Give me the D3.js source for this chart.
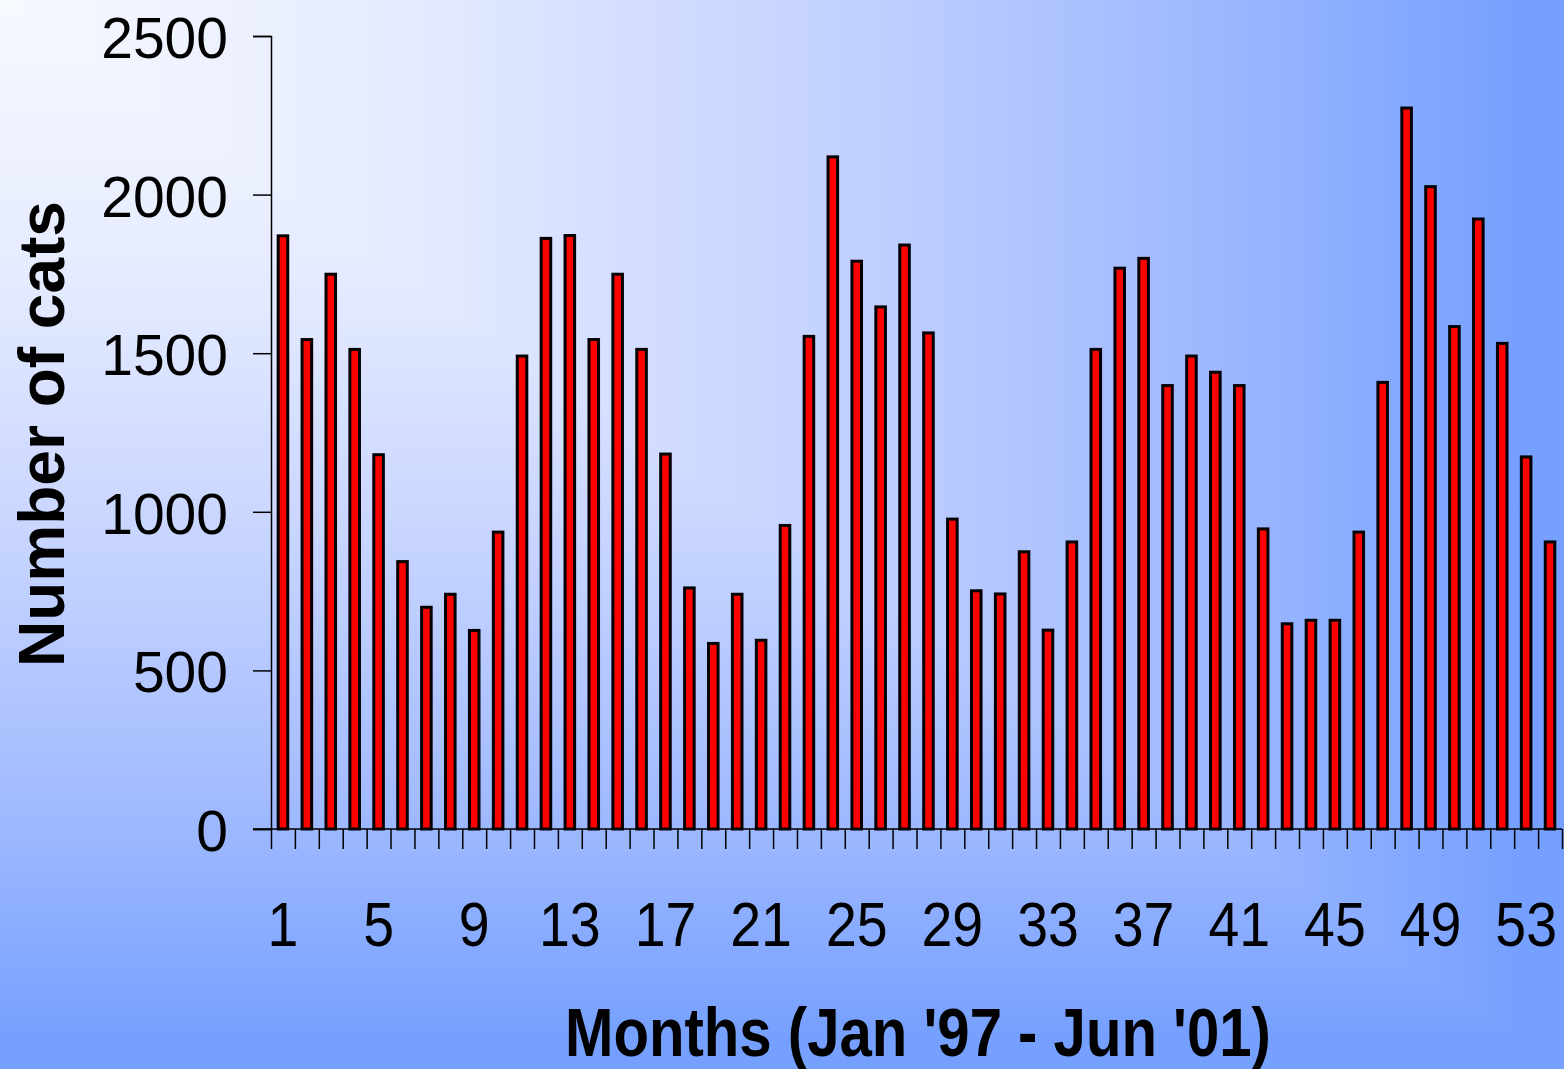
<!DOCTYPE html>
<html>
<head>
<meta charset="utf-8">
<script src="https://cdn.jsdelivr.net/npm/d3@7"></script>
<style>
	html, body { margin: 0; padding: 0; overflow: hidden; }
	svg { display: block; font-family: "Liberation Sans", Arial, sans-serif; }
</style>
</head>
<body>
<svg id="chart" width="1564" height="1069"></svg>
<script>
// month index 1..54 (Jan '97 - Jun '01)
const months = d3.range(1, 55);

const cats = [
	1870, 1543, 1749, 1512, 1180, 843, 699, 740, 626, 936,
	1491, 1862, 1871, 1543, 1749, 1512, 1182, 760, 585, 740,
	595, 957, 1553, 2119, 1790, 1646, 1841, 1564, 977, 751,
	741, 874, 627, 905, 1512, 1768, 1799, 1398, 1491, 1440,
	1398, 946, 647, 658, 658, 936, 1408, 2273, 2025, 1584,
	1923, 1531, 1173, 905
];

const yTicks = [0, 500, 1000, 1500, 2000, 2500];
const xLabels = [1, 5, 9, 13, 17, 21, 25, 29, 33, 37, 41, 45, 49, 53];

const width = 1564, height = 1069;
const plot = { left: 271, right: 1562, top: 36, bottom: 829 };

const svg = d3.select('#chart');

// background: "from corner" gradient, two linear gradients combined with darken
const defs = svg.append('defs');
const bgStops = [
	[0, '#f7f9ff'],
	[0.25, '#e6ecff'],
	[0.5, '#c8d5ff'],
	[0.75, '#a2bbff'],
	[0.97, '#76a0ff']
];
[['gh', 1, 0], ['gv', 0, 1]].forEach(([id, x2, y2]) => {
	defs.append('linearGradient')
		.attr('id', id)
		.attr('x1', 0).attr('y1', 0).attr('x2', x2).attr('y2', y2)
		.selectAll('stop')
		.data(bgStops)
		.join('stop')
		.attr('offset', d => d[0])
		.attr('stop-color', d => d[1]);
});

svg.append('rect').attr('width', width).attr('height', height).attr('fill', 'url(#gh)');
svg.append('rect').attr('width', width).attr('height', height).attr('fill', 'url(#gv)')
	.style('mix-blend-mode', 'darken');

const x = d3.scaleBand()
	.domain(months)
	.range([plot.left, plot.right])
	.paddingInner(0.6)
	.paddingOuter(0.3);

// category boundaries for the x ticks
const xEdge = d3.scaleLinear()
	.domain([0, months.length])
	.range([plot.left, plot.right]);

const y = d3.scaleLinear()
	.domain([0, 2500])
	.range([plot.bottom, plot.top]);

// bars
svg.append('g')
	.selectAll('rect')
	.data(cats)
	.join('rect')
	.attr('x', (d, i) => x(months[i]))
	.attr('y', d => y(d))
	.attr('width', x.bandwidth())
	.attr('height', d => y(0) - y(d))
	.attr('fill', '#ff0000')
	.attr('stroke', '#000')
	.attr('stroke-width', 3);

// y axis
svg.append('g')
	.attr('transform', `translate(${plot.left},0)`)
	.call(d3.axisLeft(y).tickValues(yTicks).tickSize(18).tickFormat(''));

// x axis (ticks at every month boundary)
const xAxis = svg.append('g')
	.attr('transform', `translate(0,${plot.bottom})`)
	.call(d3.axisBottom(xEdge).tickValues(d3.range(months.length + 1)).tickSize(20).tickFormat(''));

svg.selectAll('.domain, .tick line')
	.attr('stroke', '#000')
	.attr('stroke-width', 1.5);
xAxis.select('.domain').attr('d', `M${plot.left - 18},0H${plot.right}`);

// y tick labels
svg.append('g')
	.selectAll('text')
	.data(yTicks)
	.join('text')
	.attr('x', 228)
	.attr('y', d => y(d) + 2)
	.attr('dy', '0.35em')
	.attr('text-anchor', 'end')
	.attr('font-size', 57)
	.attr('fill', '#000')
	.text(d => d);

// x tick labels (narrow face)
svg.append('g')
	.selectAll('text')
	.data(xLabels)
	.join('text')
	.attr('transform', d => `translate(${x(d) + x.bandwidth() / 2},946) scale(0.88,1)`)
	.attr('text-anchor', 'middle')
	.attr('font-size', 63)
	.attr('fill', '#000')
	.text(d => d);

// axis titles
svg.append('text')
	.attr('transform', 'translate(64,434) rotate(-90)')
	.attr('text-anchor', 'middle')
	.attr('font-size', 64)
	.attr('font-weight', 'bold')
	.attr('fill', '#000')
	.text('Number of cats');

svg.append('text')
	.attr('transform', 'translate(918,1056) scale(0.855,1)')
	.attr('text-anchor', 'middle')
	.attr('font-size', 68)
	.attr('font-weight', 'bold')
	.attr('fill', '#000')
	.text("Months (Jan '97 - Jun '01)");
</script>
</body>
</html>
